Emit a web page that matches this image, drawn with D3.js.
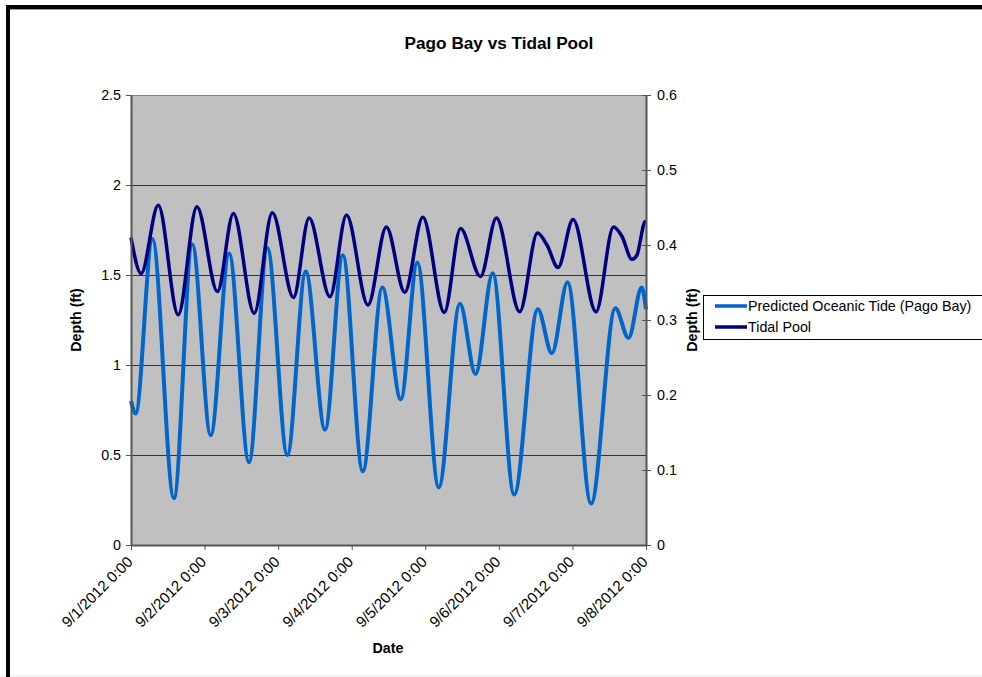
<!DOCTYPE html>
<html>
<head>
<meta charset="utf-8">
<script src="https://cdn.jsdelivr.net/npm/d3@7"></script>
<style>
  body { margin: 0; background: #fff; }
  text { font-family: "Liberation Sans", Arial, sans-serif; fill: #000; }
</style>
</head>
<body>
<div id="chart"></div>
<script>
// Predicted Oceanic Tide (Pago Bay), hours after 9/1/2012 0:00 -> depth (ft), left axis
var tideHours = [0, 1.5, 7, 14, 20, 26, 32, 38.5, 44.5, 51, 57, 63.3, 69.1, 75.6, 82, 88, 93.4, 100.4,
  107.3, 112.4, 118, 125, 132.7, 137.3, 142.4, 150.1, 158, 162.3, 166.6, 168];
var tideDepth = [0.80, 0.73, 1.70, 0.26, 1.67, 0.61, 1.62, 0.46, 1.65, 0.50, 1.52, 0.64, 1.61, 0.41, 1.43, 0.81, 1.57, 0.32,
  1.34, 0.95, 1.51, 0.28, 1.31, 1.065, 1.46, 0.23, 1.315, 1.15, 1.43, 1.31];

// Tidal Pool, hours -> depth (ft), right axis
var poolHours = [0, 3.3, 8.9, 15.4, 21.5, 28.2, 33.4, 40.2, 46.1, 53, 58.1, 64.9, 70.3, 77.3, 83.3, 89.3, 95.2, 102.2,
  107.5, 114, 119.2, 126.8, 132.6, 135.7, 139.3, 144.2, 151.7, 157.4, 160.1, 163.4, 165, 167.5, 168];
var poolDepth = [0.41, 0.362, 0.453, 0.307, 0.451, 0.338, 0.442, 0.309, 0.443, 0.330, 0.436, 0.331, 0.440, 0.320, 0.424, 0.337, 0.437, 0.310,
  0.422, 0.358, 0.436, 0.311, 0.416, 0.400, 0.370, 0.434, 0.311, 0.424, 0.412, 0.381, 0.386, 0.430, 0.432];

var dayLabels = ["9/1/2012 0:00", "9/2/2012 0:00", "9/3/2012 0:00", "9/4/2012 0:00",
  "9/5/2012 0:00", "9/6/2012 0:00", "9/7/2012 0:00", "9/8/2012 0:00"];
var leftTicks = [0, 0.5, 1, 1.5, 2, 2.5];
var rightTicks = [0, 0.1, 0.2, 0.3, 0.4, 0.5, 0.6];

var W = 982, H = 677;
var plot = { left: 131, right: 646, top: 95, bottom: 545 };
var fontSize = "14.3px";

var svg = d3.select("#chart").append("svg")
  .attr("width", W)
  .attr("height", H);

// outer chart frame
svg.append("rect").attr("x", 0).attr("y", 0).attr("width", W).attr("height", H).attr("fill", "#fff");
svg.append("line").attr("x1", 0).attr("x2", W).attr("y1", 676).attr("y2", 676)
  .attr("stroke", "#e6e6e6").attr("stroke-width", 1);
svg.append("line").attr("x1", 10).attr("x2", W).attr("y1", 9.5).attr("y2", 9.5)
  .attr("stroke", "#999").attr("stroke-width", 1);
svg.append("path").attr("d", "M8,677 V7 H982")
  .attr("fill", "none").attr("stroke", "#000").attr("stroke-width", 4);

var x = d3.scaleLinear().domain([0, 168]).range([plot.left, plot.right]);
var yL = d3.scaleLinear().domain([0, 2.5]).range([plot.bottom, plot.top]);
var yR = d3.scaleLinear().domain([0, 0.6]).range([plot.bottom, plot.top]);

// plot area
svg.append("rect")
  .attr("x", plot.left).attr("y", plot.top)
  .attr("width", plot.right - plot.left).attr("height", plot.bottom - plot.top)
  .attr("fill", "#c0c0c0");

svg.append("g").selectAll("line")
  .data(leftTicks.filter(function(d) { return d > 0; }))
  .enter().append("line")
  .attr("x1", plot.left).attr("x2", plot.right)
  .attr("y1", function(d) { return Math.round(yL(d)) + 0.5; })
  .attr("y2", function(d) { return Math.round(yL(d)) + 0.5; })
  .attr("stroke", function(d) { return d === 2.5 ? "#808080" : "#333"; })
  .attr("stroke-width", 1);

// series
var line = d3.line().curve(d3.curveMonotoneX);

svg.append("path")
  .datum(d3.zip(tideHours, tideDepth))
  .attr("fill", "none")
  .attr("stroke", "#0066cc")
  .attr("stroke-width", 4)
  .attr("stroke-linejoin", "round")
  .attr("d", line.x(function(d) { return x(d[0]); }).y(function(d) { return yL(d[1]); }));

svg.append("path")
  .datum(d3.zip(poolHours, poolDepth))
  .attr("fill", "none")
  .attr("stroke", "#000080")
  .attr("stroke-width", 3.5)
  .attr("stroke-linejoin", "round")
  .attr("d", line.x(function(d) { return x(d[0]); }).y(function(d) { return yR(d[1]); }));

// axes
function styleAxis(g) {
  g.select(".domain").attr("stroke", "#555").attr("stroke-width", 2);
  g.selectAll(".tick line").attr("stroke", "#555");
  g.selectAll(".tick text").style("font-size", fontSize)
    .style("font-family", "'Liberation Sans', Arial, sans-serif");
}

svg.append("g")
  .attr("transform", "translate(" + plot.left + ",0)")
  .call(d3.axisLeft(yL).tickValues(leftTicks).tickFormat(d3.format("")).tickSize(5).tickSizeOuter(0).tickPadding(5))
  .call(styleAxis);

svg.append("g")
  .attr("transform", "translate(" + plot.right + ",0)")
  .call(d3.axisRight(yR).tickValues(rightTicks).tickFormat(d3.format("")).tickSize(5).tickSizeOuter(0).tickPadding(6))
  .call(styleAxis)
  .selectAll(".tick line").attr("x1", -4);

var xAxis = svg.append("g")
  .attr("transform", "translate(0," + plot.bottom + ")")
  .call(d3.axisBottom(x).tickValues(d3.range(0, 169, 24))
    .tickFormat(function(d, i) { return dayLabels[i]; }).tickSize(5).tickSizeOuter(0))
  .call(styleAxis);

xAxis.selectAll(".tick text")
  .style("font-size", "15.2px")
  .attr("text-anchor", "end")
  .attr("dy", null)
  .attr("x", -11)
  .attr("y", 14)
  .attr("transform", "rotate(-45)");

// titles
svg.append("text")
  .attr("x", 499).attr("y", 49)
  .attr("text-anchor", "middle")
  .style("font-size", "17.2px").style("font-weight", "bold")
  .text("Pago Bay vs Tidal Pool");

svg.append("text")
  .attr("x", 388).attr("y", 653)
  .attr("text-anchor", "middle")
  .style("font-size", fontSize).style("font-weight", "bold")
  .text("Date");

svg.append("text")
  .attr("transform", "translate(81,320) rotate(-90)")
  .attr("text-anchor", "middle")
  .style("font-size", fontSize).style("font-weight", "bold")
  .text("Depth (ft)");

svg.append("text")
  .attr("transform", "translate(697,320) rotate(-90)")
  .attr("text-anchor", "middle")
  .style("font-size", fontSize).style("font-weight", "bold")
  .text("Depth (ft)");

// legend
var seriesNames = ["Predicted Oceanic Tide (Pago Bay)", "Tidal Pool"];
var seriesColors = ["#0066cc", "#000080"];

var legend = svg.append("g");
legend.append("rect")
  .attr("x", 703.5).attr("y", 295.5).attr("width", 290).attr("height", 44)
  .attr("fill", "#fff").attr("stroke", "#000").attr("stroke-width", 1);

var item = legend.selectAll("g.item")
  .data(seriesNames)
  .enter().append("g")
  .attr("class", "item")
  .attr("transform", function(d, i) { return "translate(0," + (306 + i * 21) + ")"; });

item.append("line")
  .attr("x1", 715).attr("x2", 747)
  .attr("stroke", function(d, i) { return seriesColors[i]; })
  .attr("stroke-width", 3.5);

item.append("text")
  .attr("x", 748).attr("y", 5)
  .style("font-size", fontSize)
  .text(function(d) { return d; });
</script>
</body>
</html>
